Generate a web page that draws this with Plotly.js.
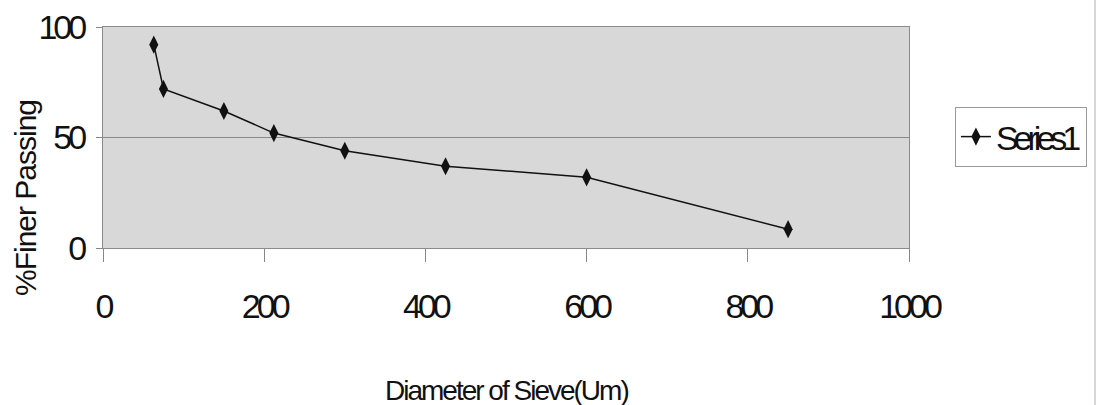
<!DOCTYPE html>
<html>
<head>
<meta charset="utf-8">
<script src="https://cdn.plot.ly/plotly-3.0.1.min.js"></script>
<style>
  html, body { margin: 0; padding: 0; background: #ffffff; }
  #chart { width: 1097px; height: 405px; }
  #chart .xtick text, #chart .ytick text { letter-spacing: -4px; }
  .legendtext { letter-spacing: -5px; }
  #chart .annotation.xtitle text { letter-spacing: -2px; }
  #chart .annotation.ytitle text { letter-spacing: -1px; }
</style>
</head>
<body>
<div id="chart"></div>
<script>
// Sieve diameters (µm) and percent finer passing
const sieveDiameter = [63, 75, 150, 212, 300, 425, 600, 850];
const percentFiner = [92, 72, 62, 52, 44, 37, 32, 8.5];
const seriesName = 'Series1';
const xTickValues = [0, 200, 400, 600, 800, 1000];
const yTickValues = [0, 50, 100];
const xTitle = 'Diameter of Sieve(Um)';
const yTitle = '%Finer Passing';

const FONT = '"Liberation Sans", Arial, sans-serif';

const trace = {
  x: sieveDiameter,
  y: percentFiner,
  name: seriesName,
  type: 'scatter',
  mode: 'lines+markers',
  line: { color: '#111111', width: 1.5 },
  marker: { symbol: 'diamond-tall', size: 13, color: '#111111' },
  showlegend: true
};

const layout = {
  width: 1097,
  height: 405,
  margin: { l: 103, r: 188, t: 27, b: 157, autoexpand: false },
  paper_bgcolor: '#ffffff',
  plot_bgcolor: '#d8d8d8',
  font: { family: FONT, color: '#111111' },
  showlegend: true,
  legend: {
    x: 1.057, xanchor: 'left',
    y: 0.638, yanchor: 'top',
    font: { family: FONT, size: 34, color: '#111111' },
    bordercolor: '#9a9a9a', borderwidth: 1,
    bgcolor: '#ffffff',
    itemwidth: 30
  },
  xaxis: {
    range: [0, 1000],
    tickvals: xTickValues,
    ticktext: xTickValues.map(String),
    ticks: 'outside', ticklen: 13, tickcolor: '#888888', tickwidth: 1,
    showgrid: false, zeroline: false,
    showline: true, linecolor: '#8a8a8a', linewidth: 1, mirror: true,
    tickfont: { family: FONT, size: 34, color: '#111111' },
    ticklabelstandoff: 15,
    automargin: false,
    fixedrange: true
  },
  yaxis: {
    range: [0, 100],
    tickvals: yTickValues,
    ticktext: yTickValues.map(String),
    ticks: 'outside', ticklen: 6, tickcolor: '#888888', tickwidth: 1,
    showgrid: true, gridcolor: '#8a8a8a', gridwidth: 1, zeroline: false,
    showline: true, linecolor: '#8a8a8a', linewidth: 1, mirror: true,
    tickfont: { family: FONT, size: 34, color: '#111111' },
    ticklabelstandoff: 6,
    automargin: false,
    fixedrange: true
  },
  annotations: [{
    text: xTitle,
    name: 'xtitle',
    xref: 'paper', yref: 'paper',
    x: 0.5, y: -0.647,
    xanchor: 'center', yanchor: 'middle',
    showarrow: false,
    font: { family: FONT, size: 28, color: '#111111' }
  }, {
    text: yTitle,
    name: 'ytitle',
    xref: 'paper', yref: 'paper',
    x: -0.0968, y: 0.226,
    xanchor: 'center', yanchor: 'middle',
    textangle: -90,
    showarrow: false,
    font: { family: FONT, size: 30, color: '#111111' }
  }],
  shapes: [{
    type: 'line', xref: 'paper', yref: 'paper',
    x0: 1.2308, x1: 1.2308, y0: -0.72, y1: 1.13,
    line: { color: '#b0b0b0', width: 1 }
  }]
};

Plotly.newPlot('chart', [trace], layout, { staticPlot: true, displayModeBar: false }).then(function (gd) {
  // tag the two title annotations so the condensed spacing can be applied
  const anns = gd.querySelectorAll('.annotation');
  if (anns[0]) anns[0].classList.add('xtitle');
  if (anns[1]) anns[1].classList.add('ytitle');
});
</script>
</body>
</html>
